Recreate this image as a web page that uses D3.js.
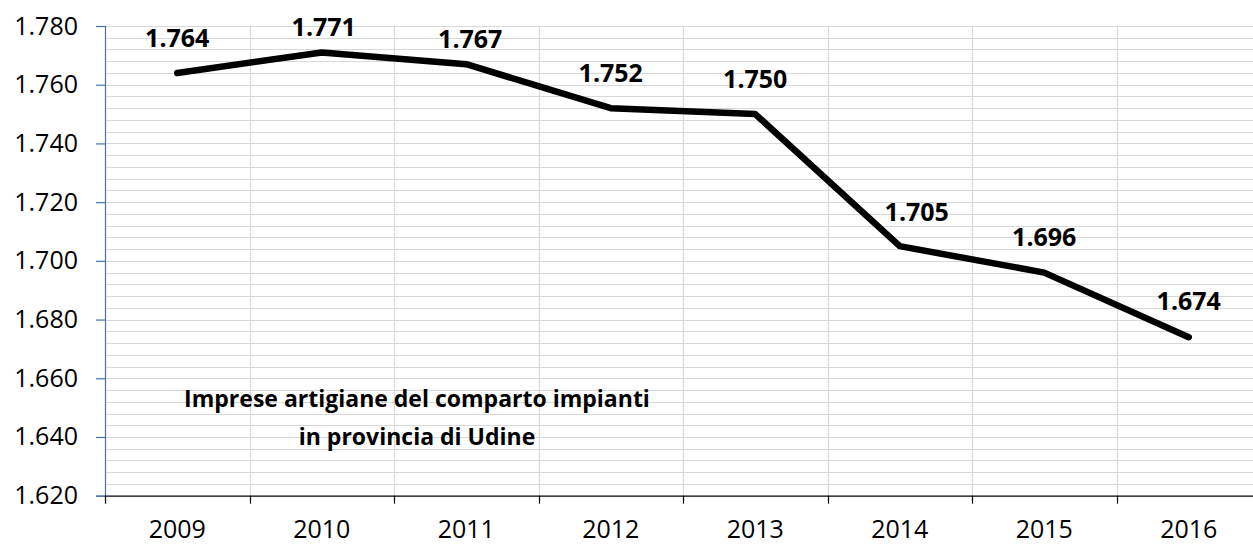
<!DOCTYPE html>
<html lang="it">
<head>
<meta charset="utf-8">
<title>Imprese artigiane del comparto impianti in provincia di Udine</title>
<script src="https://cdn.jsdelivr.net/npm/d3@7"></script>
<style>
  html, body { margin: 0; padding: 0; background: #ffffff; }
  svg { display: block; }
  text { font-family: "Open Sans", Lato, "Liberation Sans", sans-serif; fill: #000; }
</style>
</head>
<body>
<svg id="chart" width="1253" height="545"></svg>
<script>
// Numero di imprese artigiane per anno
const years = ["2009", "2010", "2011", "2012", "2013", "2014", "2015", "2016"];
const imprese = [1764, 1771, 1767, 1752, 1750, 1705, 1696, 1674];

// Asse verticale
const yDomain = [1620, 1780];
const yMajorStep = 20;
const yMinorStep = 4;

const titleLines = ["Imprese artigiane del comparto impianti", "in provincia di Udine"];

// Spostamenti delle etichette dei valori rispetto al punto (dx, dy)
const labelShift = [[0, -26], [2, -16], [4, -16], [0, -26], [0, -26], [17, -25], [0, -27], [0, -27]];

const FONT = "'Open Sans', Lato, sans-serif";
const itFormat = d3.formatLocale({ decimal: ",", thousands: ".", grouping: [3], currency: ["€", ""] }).format(",d");

const svg = d3.select("#chart");
const plot = { left: 105, right: 1261, top: 26, bottom: 495.7 };

const x = d3.scaleBand().domain(years).range([plot.left, plot.right]).padding(0);
const y = d3.scaleLinear().domain(yDomain).range([plot.bottom, plot.top]);

const minorTicks = d3.range(yDomain[0], yDomain[1] + 0.001, yMinorStep);
const majorTicks = d3.range(yDomain[0], yDomain[1] + 0.001, yMajorStep);

// Griglia orizzontale
svg.append("g")
  .selectAll("line")
  .data(minorTicks.filter(v => v > yDomain[0]))
  .join("line")
  .attr("x1", plot.left).attr("x2", plot.right)
  .attr("y1", d => Math.round(y(d)) + 0.5).attr("y2", d => Math.round(y(d)) + 0.5)
  .attr("stroke", "#d9d9d9").attr("stroke-width", 1.2);

// Griglia verticale ai confini delle categorie
svg.append("g")
  .selectAll("line")
  .data(years.slice(1))
  .join("line")
  .attr("x1", d => Math.round(x(d)) + 0.5).attr("x2", d => Math.round(x(d)) + 0.5)
  .attr("y1", plot.top).attr("y2", plot.bottom)
  .attr("stroke", "#d9d9d9").attr("stroke-width", 1.2);

// Asse Y
const yAxis = svg.append("g")
  .attr("transform", `translate(${plot.left},0)`)
  .call(d3.axisLeft(y).tickValues(majorTicks).tickFormat(itFormat).tickSize(9).tickPadding(18));
yAxis.select(".domain").attr("stroke", "#4a6fb0").attr("stroke-width", 1.2);
yAxis.selectAll(".tick line").attr("stroke", "#4a6fb0").attr("stroke-width", 1.2);
yAxis.selectAll(".tick text")
  .attr("font-size", 25).attr("font-family", FONT).attr("fill", "#000");

// Asse X
const xAxis = svg.append("g")
  .attr("transform", `translate(0,${plot.bottom})`)
  .call(d3.axisBottom(x).tickSize(0).tickPadding(25));
xAxis.select(".domain").attr("stroke", "#000").attr("stroke-width", 1.2);
xAxis.selectAll(".tick text")
  .attr("font-size", 25).attr("font-family", FONT).attr("fill", "#000");
// tacche ai confini delle categorie
svg.append("g")
  .selectAll("line")
  .data(years)
  .join("line")
  .attr("x1", d => Math.round(x(d)) + 0.5).attr("x2", d => Math.round(x(d)) + 0.5)
  .attr("y1", plot.bottom).attr("y2", plot.bottom + 8)
  .attr("stroke", "#000").attr("stroke-width", 1.2);

// Linea della serie
const cx = (d, i) => x(years[i]) + x.bandwidth() / 2;
const line = d3.line().x(cx).y(d => y(d));
svg.append("path")
  .datum(imprese)
  .attr("d", line)
  .attr("fill", "none")
  .attr("stroke", "#000")
  .attr("stroke-width", 6.5)
  .attr("stroke-linejoin", "round")
  .attr("stroke-linecap", "round");

// Etichette dei valori
svg.append("g")
  .selectAll("text")
  .data(imprese)
  .join("text")
  .attr("x", (d, i) => cx(d, i) + labelShift[i][0])
  .attr("y", (d, i) => y(d) + labelShift[i][1])
  .attr("text-anchor", "middle")
  .attr("font-size", 25)
  .attr("font-weight", "bold")
  .text(d => itFormat(d));

// Titolo all'interno dell'area del grafico
svg.append("g")
  .selectAll("text")
  .data(titleLines)
  .join("text")
  .attr("x", 417)
  .attr("y", (d, i) => 407 + i * 38)
  .attr("text-anchor", "middle")
  .attr("font-size", 23)
  .attr("font-weight", "bold")
  .text(d => d);
</script>
</body>
</html>
